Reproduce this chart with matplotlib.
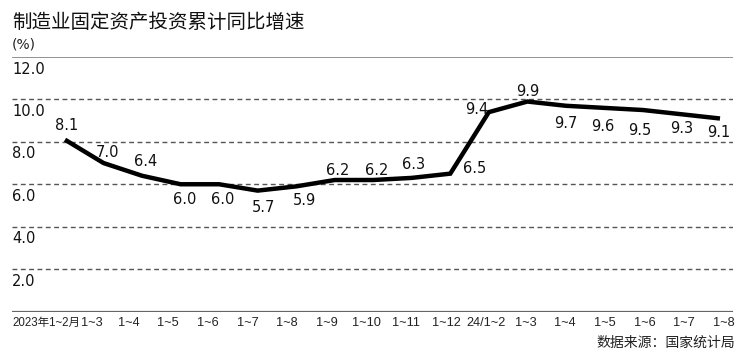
import matplotlib
matplotlib.use("Agg")
import matplotlib.pyplot as plt
import numpy as np

plt.rcParams['font.family'] = ['Noto Sans CJK SC', 'DejaVu Sans']

title = "制造业固定资产投资累计同比增速"
unit = "(%)"
source = "数据来源：国家统计局"
categories = ["2023年1~2月", "1~3", "1~4", "1~5", "1~6", "1~7", "1~8", "1~9", "1~10",
              "1~11", "1~12", "24/1~2", "1~3", "1~4", "1~5", "1~6", "1~7", "1~8"]
values = [8.1, 7.0, 6.4, 6.0, 6.0, 5.7, 5.9, 6.2, 6.2, 6.3, 6.5, 9.4, 9.9, 9.7, 9.6, 9.5, 9.3, 9.1]
yticks = [2.0, 4.0, 6.0, 8.0, 10.0, 12.0]

# label offsets in pixels (dx, dy)
label_offsets = [(2, 14), (4, 11), (4, 14), (4, -15), (4, -15), (6, -17), (8, -14),
                 (3, 10), (3, 10), (2, 13), (24, 5), (-12, 3), (0, 10), (0, -18),
                 (-2, -19), (-3, -20), (0, -14), (-1, -14)]

W, H = 750, 363
fig = plt.figure(figsize=(W / 100, H / 100), dpi=100)
x0, x1 = 12, 733
y0, y1 = 311.5, 57
ax = fig.add_axes([x0 / W, 1 - y0 / H, (x1 - x0) / W, (y0 - y1) / H])

n = len(values)
px_first, px_last = 65, 720
xs = np.arange(n)
step = (px_last - px_first) / (n - 1)
xmin = -(px_first - x0) / step
xmax = (n - 1) + (x1 - px_last) / step
ax.set_xlim(xmin, xmax)
ax.set_ylim(0, 12)

for s in ax.spines.values():
    s.set_visible(False)
ax.axhline(12, color='#7f7f7f', lw=1.2)
ax.axhline(0, color='#666666', lw=1.6)
for yv in yticks[:-1]:
    ax.axhline(yv, color='#555555', lw=1.0, ls=(0, (3.5, 2.5)))

ax.plot(xs, values, color='black', lw=3.2, solid_joinstyle='miter', solid_capstyle='butt', zorder=3)

for i, (v, (dx, dy)) in enumerate(zip(values, label_offsets)):
    ax.annotate(f"{v:.1f}", (i, v), xytext=(dx, dy), textcoords='offset pixels',
                ha='center', va='center', fontsize=10.5, color='#111111',
                family=['DejaVu Sans Condensed', 'DejaVu Sans'])

ax.set_yticks([])
ax.set_xticks([])
for yv in yticks:
    ax.text(x0 / W, 1 - (y0 - (y0 - y1) * yv / 12 + 12) / H, f"{yv:.1f}",
            transform=fig.transFigure, ha='left', va='center', fontsize=10.5,
            color='#111111', family=['DejaVu Sans'])

# x labels: spread from px 49 to px 724
lab_first, lab_last = 49, 724
lab_pos = [(lab_first + i * (lab_last - lab_first) / (n - 1) - px_first) / step for i in range(n)]
for i, (p, c) in enumerate(zip(lab_pos, categories)):
    if i == 0:
        ax.text(xmin, -0.25, c, transform=ax.transData, ha='left', va='top',
                fontsize=8.3, color='#222222', family=['Liberation Sans', 'Noto Sans CJK SC'])
    elif i == 1:
        ax.text(p + 0.07, -0.25, c, transform=ax.transData, ha='center', va='top',
                fontsize=9.2, color='#222222', family=['Liberation Sans', 'Noto Sans CJK SC'])
    else:
        ax.text(p, -0.25, c, transform=ax.transData, ha='center', va='top',
                fontsize=9.2, color='#222222', family=['Liberation Sans', 'Noto Sans CJK SC'])

fig.text(12 / W, 1 - 22 / H, title, ha='left', va='center', fontsize=14, color='#111111',
         fontweight='medium')
fig.text(12 / W, 1 - 45 / H, unit, ha='left', va='center', fontsize=10, color='#222222',
         family=['DejaVu Sans'])
fig.text(735 / W, 1 - 343 / H, source, ha='right', va='center', fontsize=10, color='#222222')

fig.savefig("out.png", dpi=100)
